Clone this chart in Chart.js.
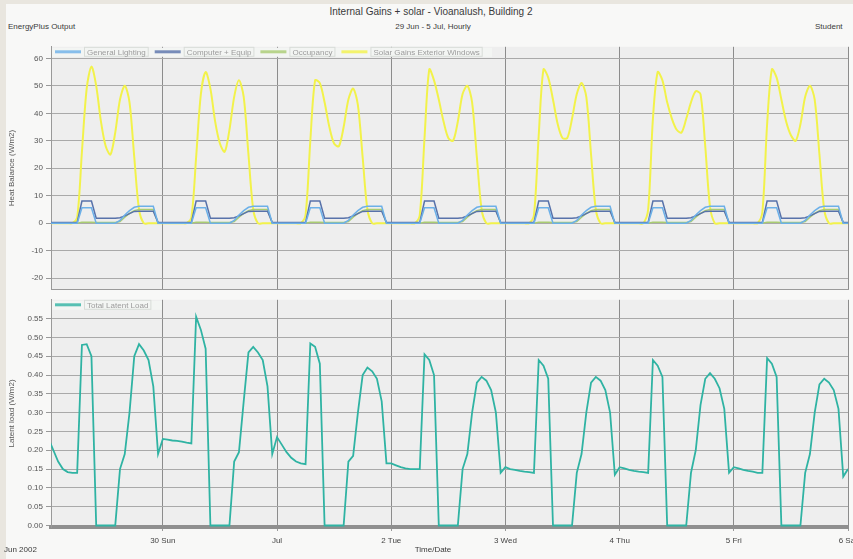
<!DOCTYPE html>
<html lang="en">
<head>
<meta charset="UTF-8">
<title>Internal Gains + solar - Vioanalush, Building 2</title>
<script src="https://cdn.jsdelivr.net/npm/chart.js"></script>
<style>
    body {
        margin: 0;
        width: 853px;
        height: 559px;
        overflow: hidden;
        position: relative;
        background: #e9e6df;
        font-family: "Liberation Sans", Arial, sans-serif;
    }
    #panel {
        position: absolute;
        left: 6px;
        top: 4px;
        width: 847px;
        height: 555px;
        background: #f8f8f7;
    }
    .txt {
        position: absolute;
        color: #3a3a3a;
        white-space: nowrap;
        font-size: 8px;
    }
    #title { left: 0; width: 862px; text-align: center; top: 6px; font-size: 10px; }
    #subtitle { left: 0; width: 866px; text-align: center; top: 22px; }
    #source { left: 8px; top: 22px; }
    #student { left: 815px; top: 22px; }
    #xtitle { left: 0; width: 866px; text-align: center; top: 545px; }
    #monthLabel { left: 4px; top: 545px; }
    #topBox { position: absolute; left: 0; top: 39px; width: 870px; height: 258px; }
    #botBox { position: absolute; left: 0; top: 292px; width: 870px; height: 267px; }
</style>
</head>
<body>
<div id="panel"></div>
<div class="txt" id="title">Internal Gains + solar - Vioanalush, Building 2</div>
<div class="txt" id="subtitle">29 Jun - 5 Jul, Hourly</div>
<div class="txt" id="source">EnergyPlus Output</div>
<div class="txt" id="student">Student</div>
<div id="topBox"><canvas id="gainsChart"></canvas></div>
<div id="botBox"><canvas id="latentChart"></canvas></div>
<div class="txt" id="monthLabel">Jun 2002</div>
<div class="txt" id="xtitle">Time/Date</div>

<script>
// hours from 29 Jun 00:00
const hours = [
    0, 1, 2, 3, 4, 5, 6, 7, 8, 9, 10, 11, 12, 13, 14, 15, 16, 17, 18, 19, 20, 21, 22, 23,
    24, 25, 26, 27, 28, 29, 30, 31, 32, 33, 34, 35, 36, 37, 38, 39, 40, 41, 42, 43, 44, 45, 46, 47,
    48, 49, 50, 51, 52, 53, 54, 55, 56, 57, 58, 59, 60, 61, 62, 63, 64, 65, 66, 67, 68, 69, 70, 71,
    72, 73, 74, 75, 76, 77, 78, 79, 80, 81, 82, 83, 84, 85, 86, 87, 88, 89, 90, 91, 92, 93, 94, 95,
    96, 97, 98, 99, 100, 101, 102, 103, 104, 105, 106, 107, 108, 109, 110, 111, 112, 113, 114, 115, 116, 117, 118, 119,
    120, 121, 122, 123, 124, 125, 126, 127, 128, 129, 130, 131, 132, 133, 134, 135, 136, 137, 138, 139, 140, 141, 142, 143,
    144, 145, 146, 147, 148, 149, 150, 151, 152, 153, 154, 155, 156, 157, 158, 159, 160, 161, 162, 163, 164, 165, 166, 167,
    168
];

const dayTicks = [24, 48, 72, 96, 120, 144, 168];
const dayLabels = ['30 Sun', 'Jul', '2 Tue', '3 Wed', '4 Thu', '5 Fri', '6 Sat'];
const heatTicks = [-20, -10, 0, 10, 20, 30, 40, 50, 60];
const latentTicks = [0, 0.05, 0.10, 0.15, 0.20, 0.25, 0.30, 0.35, 0.40, 0.45, 0.50, 0.55];

const generalLighting = [
    0, 0, 0, 0, 0, 0, 0, 5.6, 5.6, 5.6, 0, 0, 0, 0, 0, 1.0, 3.0, 4.6, 5.8, 6.2, 6.2, 6.2, 6.2, 0,
    0, 0, 0, 0, 0, 0, 0, 5.6, 5.6, 5.6, 0, 0, 0, 0, 0, 1.0, 3.0, 4.6, 5.8, 6.2, 6.2, 6.2, 6.2, 0,
    0, 0, 0, 0, 0, 0, 0, 5.6, 5.6, 5.6, 0, 0, 0, 0, 0, 1.0, 3.0, 4.6, 5.8, 6.2, 6.2, 6.2, 6.2, 0,
    0, 0, 0, 0, 0, 0, 0, 5.6, 5.6, 5.6, 0, 0, 0, 0, 0, 1.0, 3.0, 4.6, 5.8, 6.2, 6.2, 6.2, 6.2, 0,
    0, 0, 0, 0, 0, 0, 0, 5.6, 5.6, 5.6, 0, 0, 0, 0, 0, 1.0, 3.0, 4.6, 5.8, 6.2, 6.2, 6.2, 6.2, 0,
    0, 0, 0, 0, 0, 0, 0, 5.6, 5.6, 5.6, 0, 0, 0, 0, 0, 1.0, 3.0, 4.6, 5.8, 6.2, 6.2, 6.2, 6.2, 0,
    0, 0, 0, 0, 0, 0, 0, 5.6, 5.6, 5.6, 0, 0, 0, 0, 0, 1.0, 3.0, 4.6, 5.8, 6.2, 6.2, 6.2, 6.2, 0,
    0
];

const computerEquip = [
    0.3, 0.3, 0.3, 0.3, 0.3, 0.3, 0.3, 8.1, 8.1, 8.1, 1.8, 1.8, 1.8, 1.8, 1.8, 2.0, 2.7, 3.5, 4.3, 4.4, 4.4, 4.4, 4.4, 0.3,
    0.3, 0.3, 0.3, 0.3, 0.3, 0.3, 0.3, 8.1, 8.1, 8.1, 1.8, 1.8, 1.8, 1.8, 1.8, 2.0, 2.7, 3.5, 4.3, 4.4, 4.4, 4.4, 4.4, 0.3,
    0.3, 0.3, 0.3, 0.3, 0.3, 0.3, 0.3, 8.1, 8.1, 8.1, 1.8, 1.8, 1.8, 1.8, 1.8, 2.0, 2.7, 3.5, 4.3, 4.4, 4.4, 4.4, 4.4, 0.3,
    0.3, 0.3, 0.3, 0.3, 0.3, 0.3, 0.3, 8.1, 8.1, 8.1, 1.8, 1.8, 1.8, 1.8, 1.8, 2.0, 2.7, 3.5, 4.3, 4.4, 4.4, 4.4, 4.4, 0.3,
    0.3, 0.3, 0.3, 0.3, 0.3, 0.3, 0.3, 8.1, 8.1, 8.1, 1.8, 1.8, 1.8, 1.8, 1.8, 2.0, 2.7, 3.5, 4.3, 4.4, 4.4, 4.4, 4.4, 0.3,
    0.3, 0.3, 0.3, 0.3, 0.3, 0.3, 0.3, 8.1, 8.1, 8.1, 1.8, 1.8, 1.8, 1.8, 1.8, 2.0, 2.7, 3.5, 4.3, 4.4, 4.4, 4.4, 4.4, 0.3,
    0.3, 0.3, 0.3, 0.3, 0.3, 0.3, 0.3, 8.1, 8.1, 8.1, 1.8, 1.8, 1.8, 1.8, 1.8, 2.0, 2.7, 3.5, 4.3, 4.4, 4.4, 4.4, 4.4, 0.3,
    0.3
];

const occupancy = [
    0, 0, 0, 0, 0, 0, 0, 0.4, 0.4, 0.4, 0.3, 0.3, 0.3, 0.3, 0.3, 0.6, 2.2, 3.6, 4.6, 5.0, 5.0, 5.0, 5.0, 0,
    0, 0, 0, 0, 0, 0, 0, 0.4, 0.4, 0.4, 0.3, 0.3, 0.3, 0.3, 0.3, 0.6, 2.2, 3.6, 4.6, 5.0, 5.0, 5.0, 5.0, 0,
    0, 0, 0, 0, 0, 0, 0, 0.4, 0.4, 0.4, 0.3, 0.3, 0.3, 0.3, 0.3, 0.6, 2.2, 3.6, 4.6, 5.0, 5.0, 5.0, 5.0, 0,
    0, 0, 0, 0, 0, 0, 0, 0.4, 0.4, 0.4, 0.3, 0.3, 0.3, 0.3, 0.3, 0.6, 2.2, 3.6, 4.6, 5.0, 5.0, 5.0, 5.0, 0,
    0, 0, 0, 0, 0, 0, 0, 0.4, 0.4, 0.4, 0.3, 0.3, 0.3, 0.3, 0.3, 0.6, 2.2, 3.6, 4.6, 5.0, 5.0, 5.0, 5.0, 0,
    0, 0, 0, 0, 0, 0, 0, 0.4, 0.4, 0.4, 0.3, 0.3, 0.3, 0.3, 0.3, 0.6, 2.2, 3.6, 4.6, 5.0, 5.0, 5.0, 5.0, 0,
    0, 0, 0, 0, 0, 0, 0, 0.4, 0.4, 0.4, 0.3, 0.3, 0.3, 0.3, 0.3, 0.6, 2.2, 3.6, 4.6, 5.0, 5.0, 5.0, 5.0, 0,
    0
];

const solarWindows = [
    0, 0, 0, 0, 0, 0, 2, 26, 49, 57, 50, 37, 28, 25, 33, 45, 50, 44, 24, 5, 0, 0, 0, 0,
    0, 0, 0, 0, 0, 0, 2, 24, 47, 55, 49, 37, 29, 26, 34, 46, 52, 46, 25, 5, 0, 0, 0, 0,
    0, 0, 0, 0, 0, 0, 3, 30, 52, 51, 44, 35, 29, 28, 35, 45, 49, 43, 24, 5, 0, 0, 0, 0,
    0, 0, 0, 0, 0, 0, 3, 31, 56, 52, 45, 37, 31, 30, 37, 47, 50, 44, 24, 5, 0, 0, 0, 0,
    0, 0, 0, 0, 0, 0, 3, 32, 56, 53, 45, 36, 31, 31, 38, 47, 51, 46, 25, 5, 0, 0, 0, 0,
    0, 0, 0, 0, 0, 0, 5, 38, 55, 52, 44, 38, 34, 33, 38, 44, 48, 47, 28, 6, 0, 0, 0, 0,
    0, 0, 0, 0, 0, 0, 4, 36, 56, 53, 45, 37, 32, 30, 36, 46, 50, 45, 25, 5, 0, 0, 0, 0,
    0
];

const totalLatent = [
    0.23, 0.20, 0.17, 0.15, 0.142, 0.14, 0.14, 0.48, 0.482, 0.45, 0, 0, 0, 0, 0, 0.15, 0.19, 0.30, 0.45, 0.482, 0.465, 0.44, 0.37, 0.19,
    0.23, 0.228, 0.226, 0.225, 0.223, 0.22, 0.218, 0.555, 0.52, 0.47, 0, 0, 0, 0, 0, 0.17, 0.195, 0.33, 0.46, 0.475, 0.46, 0.44, 0.37, 0.19,
    0.235, 0.215, 0.195, 0.18, 0.17, 0.165, 0.163, 0.484, 0.475, 0.43, 0, 0, 0, 0, 0, 0.17, 0.185, 0.30, 0.40, 0.42, 0.41, 0.39, 0.33, 0.165,
    0.165, 0.16, 0.155, 0.152, 0.15, 0.15, 0.15, 0.455, 0.44, 0.40, 0, 0, 0, 0, 0, 0.15, 0.19, 0.30, 0.38, 0.395, 0.385, 0.36, 0.30, 0.14,
    0.155, 0.15, 0.148, 0.145, 0.143, 0.142, 0.14, 0.44, 0.425, 0.39, 0, 0, 0, 0, 0, 0.14, 0.19, 0.30, 0.38, 0.395, 0.385, 0.36, 0.30, 0.135,
    0.155, 0.152, 0.148, 0.145, 0.143, 0.142, 0.14, 0.44, 0.425, 0.395, 0, 0, 0, 0, 0, 0.14, 0.20, 0.32, 0.39, 0.405, 0.39, 0.365, 0.31, 0.14,
    0.155, 0.152, 0.148, 0.145, 0.143, 0.14, 0.14, 0.445, 0.43, 0.395, 0, 0, 0, 0, 0, 0.14, 0.19, 0.30, 0.375, 0.39, 0.38, 0.36, 0.31, 0.13,
    0.15
];

const xMin = 0.5;
const xMax = 168;

function pairs(values) {
    return values.map((v, i) => ({ x: hours[i], y: v }));
}

// grey plot area
const plotBg = {
    id: 'plotBg',
    beforeDraw(chart) {
        const { ctx, chartArea: a } = chart;
        ctx.save();
        ctx.fillStyle = '#eeeeee';
        ctx.fillRect(a.left, a.top, a.right - a.left, a.bottom - a.top);
        ctx.restore();
    }
};

// one-row legend laid over the top of the plot, like the EnergyPlus viewer
const stripLegend = {
    id: 'stripLegend',
    afterDatasetsDraw(chart) {
        const { ctx, chartArea: a } = chart;
        ctx.save();
        ctx.font = '8px "Liberation Sans"';
        ctx.textBaseline = 'middle';
        let x = a.left + 4;
        const y = a.top + 5;
        ctx.fillStyle = '#f3f5f3';
        ctx.fillRect(a.left + 1, a.top + 1, chart.data.datasets.length > 1 ? 440 : 110, 9);
        chart.data.datasets.forEach(ds => {
            const w = ctx.measureText(ds.label).width;
            ctx.strokeStyle = '#d8dcd8';
            ctx.lineWidth = 1;
            ctx.strokeRect(x + 29.5, y - 4.5, w + 5, 9);
            ctx.fillStyle = ds.borderColor;
            ctx.globalAlpha = 0.8;
            ctx.fillRect(x, y - 1.5, 26, 3);
            ctx.globalAlpha = 1;
            ctx.fillStyle = '#9c9c9c';
            ctx.fillText(ds.label, x + 32, y + 0.5);
            x += 32 + w + 9;
        });
        ctx.restore();
    }
};

function lineSet(label, values, color, width, tension) {
    return {
        label: label,
        data: pairs(values),
        borderColor: color,
        backgroundColor: color,
        borderWidth: width,
        pointRadius: 0,
        tension: tension || 0,
        fill: false
    };
}

Chart.defaults.font.family = 'Liberation Sans';
Chart.defaults.animation = false;

new Chart(document.getElementById('gainsChart'), {
    type: 'line',
    data: {
        datasets: [
            lineSet('General Lighting', generalLighting, '#6cb0e8', 1.5),
            lineSet('Computer + Equip', computerEquip, '#5872aa', 1.5),
            lineSet('Occupancy', occupancy, '#a9cc72', 1.5),
            lineSet('Solar Gains Exterior Windows', solarWindows, '#f2f24a', 2, 0.3)
        ]
    },
    options: {
        responsive: true,
        maintainAspectRatio: false,
        layout: { padding: { top: 3.3, right: 22, left: 0, bottom: 0 } },
        plugins: {
            legend: { display: false },
            tooltip: { enabled: false }
        },
        scales: {
            x: {
                type: 'linear',
                min: xMin,
                max: xMax,
                afterBuildTicks: s => { s.ticks = dayTicks.map(v => ({ value: v })); },
                afterFit: s => { s.height = 2; },
                ticks: { display: false },
                grid: { color: '#8c8c8c', drawTicks: false },
                border: { color: '#9a9a9a' }
            },
            y: {
                min: -24,
                max: 64.2,
                afterBuildTicks: s => { s.ticks = heatTicks.map(v => ({ value: v })); },
                afterFit: s => { s.width = 51; },
                ticks: { color: '#555', padding: 3, font: { size: 8 } },
                grid: { color: '#a9a9a9', tickLength: 5, tickColor: '#999' },
                border: { color: '#999' },
                title: {
                    display: true,
                    text: 'Heat Balance (W/m2)',
                    color: '#555',
                    font: { size: 8 },
                    padding: { top: 7, bottom: 0 }
                }
            }
        }
    },
    plugins: [plotBg, stripLegend]
});

new Chart(document.getElementById('latentChart'), {
    type: 'line',
    data: {
        datasets: [
            lineSet('Total Latent Load', totalLatent, '#2fb3a3', 1.8)
        ]
    },
    options: {
        responsive: true,
        maintainAspectRatio: false,
        layout: { padding: { top: 4.5, right: 22, left: 0, bottom: 0 } },
        plugins: {
            legend: { display: false },
            tooltip: { enabled: false }
        },
        scales: {
            x: {
                type: 'linear',
                min: xMin,
                max: xMax,
                afterBuildTicks: s => { s.ticks = dayTicks.map(v => ({ value: v })); },
                afterFit: s => { s.height = 32; },
                ticks: {
                    color: '#444',
                    padding: 5,
                    maxRotation: 0,
                    autoSkip: false,
                    font: { size: 8 },
                    callback: v => dayLabels[dayTicks.indexOf(v)]
                },
                grid: { color: '#8c8c8c', tickLength: 4, tickColor: '#999' },
                border: { color: '#8f8f8f', width: 4 }
            },
            y: {
                min: -0.004,
                max: 0.6,
                afterBuildTicks: s => { s.ticks = latentTicks.map(v => ({ value: v })); },
                afterFit: s => { s.width = 51; },
                ticks: {
                    color: '#555',
                    padding: 3,
                    font: { size: 8 },
                    callback: v => v.toFixed(2)
                },
                grid: { color: '#a9a9a9', tickLength: 5, tickColor: '#999' },
                border: { color: '#999' },
                title: {
                    display: true,
                    text: 'Latent load (W/m2)',
                    color: '#555',
                    font: { size: 8 },
                    padding: { top: 7, bottom: 0 }
                }
            }
        }
    },
    plugins: [plotBg, stripLegend]
});
</script>
</body>
</html>
